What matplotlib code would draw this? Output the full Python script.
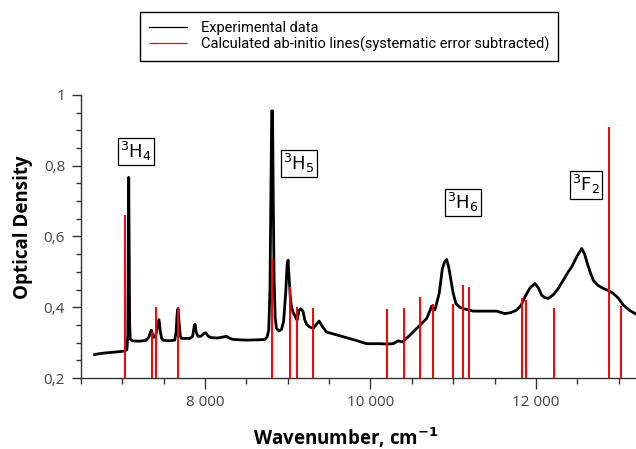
"""
Absorption spectrum with calculated ab-initio lines
"""

import matplotlib
matplotlib.use("Agg")
import matplotlib.pyplot as plt
from matplotlib.ticker import MultipleLocator, FuncFormatter

# ==================== Data ====================

# experimental curve
exp_wn = [6665, 6700, 6800, 6900, 7020, 7055, 7066, 7071, 7077, 7082, 7088, 7095,
          7125, 7200, 7280, 7320, 7340, 7351, 7365, 7380, 7403, 7420, 7443, 7460,
          7475, 7492, 7560, 7633, 7650, 7662, 7673, 7685, 7700, 7714, 7815, 7850,
          7868, 7879, 7892, 7915, 7950, 7980, 8008, 8040, 8077, 8150, 8220, 8259,
          8300, 8339, 8500, 8650, 8722, 8750, 8770, 8785, 8798, 8806, 8816, 8825,
          8835, 8848, 8864, 8895, 8924, 8950, 8975, 8992, 9004, 9015, 9030, 9045,
          9065, 9085, 9113, 9135, 9154, 9170, 9186, 9205, 9227, 9260, 9307, 9340,
          9379, 9420, 9469, 9590, 9711, 9830, 9953, 10114, 10200, 10275, 10335,
          10389, 10477, 10598, 10679, 10720, 10739, 10779, 10810, 10831, 10870,
          10900, 10921, 10945, 10973, 11000, 11034, 11080, 11122, 11243, 11400,
          11526, 11626, 11700, 11768, 11820, 11868, 11930, 11989, 12030, 12070,
          12110, 12150, 12210, 12271, 12340, 12392, 12433, 12500, 12554, 12590,
          12622, 12660, 12695, 12750, 12816, 12880, 12937, 13000, 13058, 13130,
          13200]
exp_od = [0.266, 0.268, 0.271, 0.273, 0.276, 0.280, 0.320, 0.550, 0.767, 0.600, 0.360, 0.310,
          0.305, 0.304, 0.306, 0.315, 0.330, 0.335, 0.322, 0.315, 0.320, 0.340, 0.365, 0.330,
          0.312, 0.307, 0.305, 0.307, 0.330, 0.380, 0.396, 0.360, 0.320, 0.312, 0.312, 0.318,
          0.345, 0.352, 0.330, 0.318, 0.318, 0.325, 0.328, 0.318, 0.314, 0.313, 0.316, 0.318,
          0.312, 0.309, 0.307, 0.308, 0.309, 0.316, 0.335, 0.450, 0.750, 0.955, 0.955, 0.700,
          0.480, 0.370, 0.340, 0.333, 0.337, 0.360, 0.440, 0.520, 0.533, 0.490, 0.430, 0.401,
          0.385, 0.377, 0.363, 0.390, 0.396, 0.393, 0.387, 0.365, 0.352, 0.345, 0.340, 0.350,
          0.361, 0.345, 0.330, 0.322, 0.314, 0.306, 0.297, 0.297, 0.296, 0.297, 0.305,
          0.302, 0.321, 0.349, 0.368, 0.390, 0.403, 0.392, 0.420, 0.439, 0.510,
          0.530, 0.535, 0.515, 0.476, 0.440, 0.410, 0.400, 0.396, 0.389, 0.389,
          0.389, 0.382, 0.385, 0.392, 0.405, 0.429, 0.455, 0.467, 0.455, 0.434,
          0.427, 0.425, 0.435, 0.453, 0.480, 0.500, 0.514, 0.545, 0.566, 0.550,
          0.524, 0.497, 0.476, 0.462, 0.453, 0.447, 0.439, 0.425, 0.406, 0.392,
          0.382]

# calculated lines
calc_wn = [7028, 7353, 7406, 7677, 8805, 9032, 9107, 9309, 10201, 10407,
           10598, 10759, 10998, 11117, 11197, 11828, 11886, 12217, 12884, 13026]
calc_od = [0.66, 0.33, 0.40, 0.40, 0.54, 0.458, 0.40, 0.398, 0.394, 0.399,
           0.429, 0.41, 0.41, 0.464, 0.458, 0.425, 0.42, 0.398, 0.91, 0.403]

# term labels
term_names = ["$^3$H$_4$", "$^3$H$_5$", "$^3$H$_6$", "$^3$F$_2$"]
term_wn = [7164, 9134, 11122, 12603]
term_od = [0.841, 0.807, 0.696, 0.746]

# ========================================================================

def comma_fmt(v, pos):
    s = f"{v:.1f}".rstrip("0").rstrip(".")
    return s.replace(".", ",")

def space_fmt(v, pos):
    return f"{int(v):,}".replace(",", " ")

fig = plt.figure(figsize=(6.36, 4.49), dpi=100)
ax = fig.add_axes([81 / 636, 1 - 378 / 449, 1 - 81 / 636, 283 / 449])

ax.plot(exp_wn, exp_od, color="black", lw=2.0, label="Experimental data", zorder=2)
ax.vlines(calc_wn, 0.2, calc_od, color="#ff0000", lw=1.4,
          label="Calculated ab-initio lines(systematic error subtracted)", zorder=3)

for name, x, y in zip(term_names, term_wn, term_od):
    ax.text(x, y, name, ha="center", va="center", fontsize=13, family="DejaVu Sans",
            bbox=dict(boxstyle="square,pad=0.12", fc="white", ec="black", lw=0.9))

ax.set_xlim(6500, 13211)
ax.set_ylim(0.2, 1.0)

for side in ["top", "right"]:
    ax.spines[side].set_visible(False)
for side in ["left", "bottom"]:
    ax.spines[side].set_color("#333333")
    ax.spines[side].set_linewidth(1.0)

ax.xaxis.set_major_locator(MultipleLocator(2000))
ax.xaxis.set_minor_locator(MultipleLocator(500))
ax.yaxis.set_major_locator(MultipleLocator(0.2))
ax.yaxis.set_minor_locator(MultipleLocator(0.05))
ax.xaxis.set_major_formatter(FuncFormatter(space_fmt))
ax.yaxis.set_major_formatter(FuncFormatter(comma_fmt))

ax.tick_params(axis="x", which="major", length=8, width=1, color="#333333", pad=4)
ax.tick_params(axis="x", which="minor", length=4, width=1, color="#333333")
ax.tick_params(axis="y", which="major", length=6.5, width=1, color="#333333", pad=5)
ax.tick_params(axis="y", which="minor", length=3.6, width=1, color="#333333")
for lab in ax.get_xticklabels() + ax.get_yticklabels():
    lab.set_fontfamily("Open Sans")
    lab.set_fontsize(11)
    lab.set_color("#444444")

ax.set_xlabel("Wavenumber, cm$^{\\mathbf{-1}}$", fontsize=13.5, fontweight="bold",
              family="Open Sans", va="top")
ax.xaxis.set_label_coords(0.4775, -0.168)
ax.set_ylabel("Optical Density", fontsize=13.5, fontweight="bold", family="Open Sans")
ax.yaxis.set_label_coords(-0.087, 0.532)

leg = fig.legend(loc="upper left", bbox_to_anchor=(140 / 636, 1 - 12 / 449),
                 borderaxespad=0, fancybox=False, frameon=True, edgecolor="black",
                 framealpha=1, handlelength=2.6, handletextpad=1.0, labelspacing=0.12,
                 borderpad=0.6, prop={"family": "Roboto", "size": 10.5})
leg.get_frame().set_linewidth(1.0)
for h in leg.legend_handles:
    h.set_linewidth(0.9)

fig.savefig("out.png", dpi=100)
